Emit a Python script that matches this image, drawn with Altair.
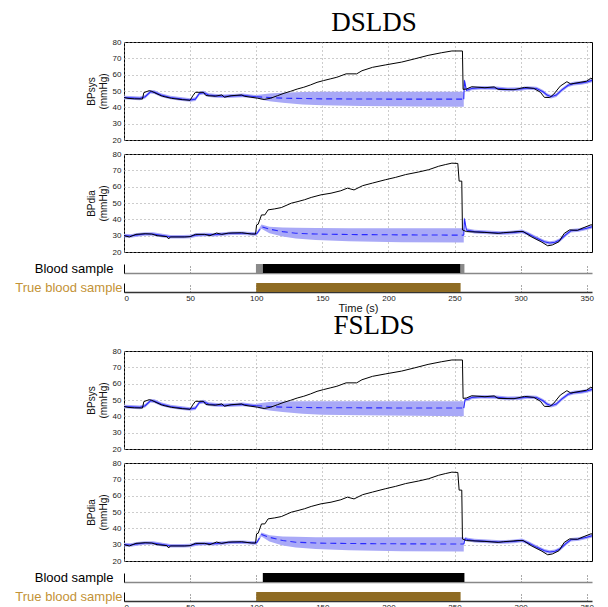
import altair as alt
import pandas as pd

X_MAX = 354
X_TICKS = [0, 50, 100, 150, 200, 250, 300, 350]
Y_TICKS = [20, 30, 40, 50, 60, 70, 80]

# ---------------- true (measured) signals ----------------
sys_t = [0, 3, 8, 14, 15, 19, 21, 25, 29, 36, 44, 50, 52, 54, 60, 62, 69, 74, 76, 81, 89, 91, 96,
         101, 106, 111, 116, 121, 126, 131, 136, 141, 146, 151, 156, 161, 168, 176, 180, 188, 198,
         210, 220, 230, 240, 248, 256, 256.5, 259, 263, 273, 280, 283, 295, 303, 310, 315, 318,
         322, 325, 330, 335, 338, 345, 350, 353, 354]
sys_v = [46, 45.5, 45.2, 45.1, 49, 50.2, 49.8, 48.2, 46.8, 45.5, 44.7, 44.3, 47, 49.2, 49.2, 47.2,
         46.8, 47.6, 46.2, 47.1, 47.6, 46.8, 46.2, 45.6, 44.8, 45.6, 47.1, 48.6, 49.8, 51.2, 52.3,
         53.7, 55.3, 56.4, 57.4, 58.4, 60.5, 60.5, 62.4, 64.5, 66, 67.7, 69.7, 71.8, 73.4, 74.5,
         74.5, 51, 51.2, 52.6, 52, 52.5, 51, 50.8, 52.2, 51.6, 49.2, 46.1, 46, 48, 53, 55.7, 54.3,
         55.3, 56, 57.8, 57.5]

dia_t = [0, 4, 9, 16, 21, 25, 32.5, 33.8, 35, 46, 50, 54, 61, 65, 70, 74, 79, 89, 96.5, 99.5,
         100.3, 101.5, 104, 106.5, 109, 114, 119, 126.6, 131.6, 136.6, 141.6, 149, 156.6, 164, 169,
         174, 180.5, 188, 198, 205.5, 213, 223, 230.5, 238, 243, 248, 252.5, 253.5, 255.5, 256,
         259, 273, 283, 287, 298, 302, 308, 315.5, 320.5, 324, 329, 333, 337, 343, 348, 353, 354]
dia_v = [30, 29.2, 30.8, 31.2, 31, 30, 29.4, 28, 29.2, 29.2, 29.4, 30.8, 30.8, 30, 31.6, 30.8,
         31.6, 31.8, 31, 31, 36.6, 37, 42.7, 42.7, 45.8, 46.4, 47.2, 49.9, 50.9, 52, 53.4, 55, 56,
         57.5, 59.1, 58, 60.6, 62.2, 64.3, 65.7, 67.4, 69, 70.4, 72.5, 73.5, 74.4, 74.2, 63.4, 63.4,
         33.5, 32.5, 32, 31.4, 31.8, 32.5, 32.5, 29.4, 26.3, 23.8, 24.3, 26.3, 31.4, 33.5, 33.3,
         35, 36.6, 36.6]

# ---------------- estimates: normal segments (solid) ----------------
est_sys_pre_t = [0, 5, 12, 16, 20, 23, 28, 35, 44, 50, 54, 57, 60, 64, 70, 76, 82, 90, 96, 100]
est_sys_pre_v = [46, 45.8, 45.5, 46.5, 49.5, 49.3, 47.5, 46, 45, 44.5, 45, 48.5, 49, 47.5, 47,
                 46.8, 47, 47.3, 46.8, 46.5]
est_dia_pre_t = [0, 5, 10, 16, 22, 28, 35, 45, 50, 55, 62, 68, 75, 82, 90, 96, 100]
est_dia_pre_v = [30, 29.8, 30.5, 31, 31, 30.2, 29.3, 29.3, 29.5, 30.5, 30.7, 30.6, 31, 31.5,
                 31.5, 31.2, 31]

# DSLDS post-artifact
d_sys_post_t = [257, 257.5, 259, 263, 270, 280, 290, 300, 305, 312, 317, 320, 323, 327, 331,
                336, 340, 346, 350, 354]
d_sys_post_v = [45, 56.5, 50.5, 51.5, 52, 51.8, 51, 51.2, 51.8, 51.5, 49.5, 47.5, 46.5, 47.5,
                50.5, 53.5, 54.5, 55, 55.5, 56.5]
d_dia_post_t = [257, 257.5, 259, 265, 275, 285, 295, 301, 306, 312, 318, 322, 326, 330, 334,
                338, 344, 350, 354]
d_dia_post_v = [30.3, 40.5, 33.5, 32.5, 32, 31.6, 32, 32.6, 31, 28.5, 26.3, 25.5, 26, 27.5,
                30.5, 33, 33.5, 34.5, 35.5]
# FSLDS post-artifact
f_sys_post_t = [257, 258, 260, 263, 270, 280, 290, 300, 305, 312, 317, 320, 323, 327, 331, 336,
                340, 346, 350, 354]
f_sys_post_v = [45, 50.2, 50.5, 51.5, 52, 51.8, 51, 51.2, 51.8, 51.5, 49.5, 47.5, 46.5, 47.5,
                50.5, 53.5, 54.5, 55, 55.5, 56.5]
f_dia_post_t = [257, 258, 260, 265, 275, 285, 295, 301, 306, 312, 318, 322, 326, 330, 334, 338,
                344, 350, 354]
f_dia_post_v = [30.3, 33.6, 33.2, 32.5, 32, 31.6, 32, 32.6, 31, 28.5, 26.3, 25.5, 26, 27.5,
                30.5, 33, 33.5, 34.5, 35.5]

# ---------------- estimates: artifact segment (dashed + wide band) ----------------
d_sys_art_t = [100, 105, 110, 120, 135, 150, 180, 220, 257]
d_sys_art_m = [46.5, 46.2, 46, 45.6, 45.4, 45.2, 45.1, 45, 45]
d_sys_art_lo = [45.5, 44.5, 43.8, 42.8, 41.8, 41.3, 40.8, 40.5, 40.4]
d_sys_art_hi = [47.5, 48, 48.5, 49, 49.4, 49.5, 49.5, 49.5, 49.5]

f_sys_art_t = [100, 105, 110, 120, 135, 150, 180, 220, 257]
f_sys_art_m = [46.5, 46.3, 46, 45.6, 45.4, 45.3, 45.2, 45.1, 45.1]
f_sys_art_lo = [45.3, 44.3, 43.6, 42.6, 41.6, 41, 40.6, 40.3, 40.1]
f_sys_art_hi = [47.7, 48.3, 48.7, 49.1, 49.3, 49.3, 49.3, 49.3, 49.3]

d_dia_art_t = [100, 101, 104, 110, 120, 130, 145, 170, 210, 257]
d_dia_art_m = [31, 31.8, 35.5, 34, 32.5, 31.5, 31, 30.7, 30.5, 30.3]
d_dia_art_lo = [30.2, 30.8, 34.2, 31.5, 29.5, 28.2, 27.3, 26.6, 26, 25.8]
d_dia_art_hi = [31.8, 32.8, 36.8, 35.5, 35, 34.8, 34.7, 34.6, 34.6, 34.6]

f_dia_art_t = [100, 101, 104, 110, 120, 130, 145, 170, 210, 257]
f_dia_art_m = [31, 32, 36.3, 34.5, 32.5, 31.5, 31, 30.7, 30.5, 30.4]
f_dia_art_lo = [30.2, 31, 35, 32, 29.5, 28.2, 27.3, 26.6, 26, 25.8]
f_dia_art_hi = [31.8, 33, 37.5, 35.8, 35, 34.8, 34.6, 34.5, 34.5, 34.5]

# ---------------- blood sample indicators ----------------
d_blood_start = [99.8, 105, 254.6]
d_blood_end = [105, 254.6, 257.5]
d_blood_kind = ["uncertain", "sample", "uncertain"]
f_blood_start = [105]
f_blood_end = [257.5]
f_blood_kind = ["sample"]
true_start = [100]
true_end = [254.6]
true_kind = ["true"]

HALO = 1.1
BLUE = "#2a2aff"
BAND = "#a9a9f7"
GRID = "#9a9a9a"
SANS = "Liberation Sans"
GOLD_TXT = "#c39236"
BROWN = "#8e6b23"
KIND_DOM = ["uncertain", "sample", "true"]
KIND_RNG = ["#8a8a8a", "black", BROWN]

PW = 468


def est_frame(pre_t, pre_v, art_t, art_m, art_lo, art_hi, post_t, post_v):
    rows = []
    for t, v in zip(pre_t, pre_v):
        rows.append(dict(t=t, m=v, lo=v - HALO, hi=v + HALO, seg="pre"))
    for t, m, lo, hi in zip(art_t, art_m, art_lo, art_hi):
        rows.append(dict(t=t, m=m, lo=lo, hi=hi, seg="art"))
    for t, v in zip(post_t, post_v):
        rows.append(dict(t=t, m=v, lo=v - HALO, hi=v + HALO, seg="post"))
    return pd.DataFrame(rows)


XSC = alt.Scale(domain=[0, X_MAX], nice=False, zero=False)
XAX_HIDDEN = alt.Axis(values=X_TICKS, labels=False, ticks=False, domain=False, grid=True,
                      gridDash=[1, 3], gridColor=GRID, title=None, minExtent=0, maxExtent=0)


def panel(true_t, true_v, est, ytitle, title=None, title_offset=1):
    truedf = pd.DataFrame({"t": true_t, "v": true_v})
    ysc = alt.Scale(domain=[20, 80], nice=False, zero=False)
    yax = alt.Axis(values=Y_TICKS, grid=True, gridDash=[1, 3], gridColor=GRID, ticks=False,
                   domain=False, labelFont=SANS, labelFontSize=8, labelColor="#222",
                   labelPadding=3, title=ytitle, titleFont=SANS, titleFontSize=10,
                   titleFontWeight="normal", titleColor="#111", titlePadding=4)
    x = alt.X("t:Q", scale=XSC, axis=XAX_HIDDEN)
    band = alt.Chart(est).mark_area(color=BAND, opacity=1).encode(
        x=x, y=alt.Y("lo:Q", scale=ysc, axis=yax), y2="hi:Q", detail="seg:N")
    solid = alt.Chart(est).transform_filter(alt.datum.seg != "art").mark_line(
        color=BLUE, strokeWidth=1.1).encode(
        x=x, y=alt.Y("m:Q", scale=ysc, axis=yax), detail="seg:N")
    dashed = alt.Chart(est).transform_filter(alt.datum.seg == "art").mark_line(
        color=BLUE, strokeWidth=1.1, strokeDash=[6, 4]).encode(
        x=x, y=alt.Y("m:Q", scale=ysc, axis=yax))
    black = alt.Chart(truedf).mark_line(color="black", strokeWidth=1).encode(
        x=x, y=alt.Y("v:Q", scale=ysc, axis=yax))
    ch = alt.layer(band, solid, dashed, black).properties(
        width=PW, height=98, view=alt.ViewBackground(stroke="black", strokeWidth=1))
    if title:
        ch = ch.properties(title=alt.TitleParams(title, font="Liberation Serif", fontSize=27,
                                                 fontWeight="normal", color="black",
                                                 anchor="middle", dx=16, offset=title_offset))
    return ch


def strip(label, starts, ends, kinds, label_color, show_x, xtitle=None, domain_color="#888",
          label_pad=2):
    df = pd.DataFrame({"row": label, "s": starts, "e": ends, "k": kinds})
    if show_x:
        xax = alt.Axis(values=X_TICKS, labels=True, ticks=False, domain=True,
                       domainColor=domain_color, domainWidth=1.6, grid=True, gridDash=[1, 2],
                       gridColor="#555", labelFont=SANS, labelFontSize=8, labelColor="#222",
                       labelPadding=2, title=xtitle, titleFont=SANS, titleFontSize=11,
                       titleFontWeight="normal", titleColor="#111", titlePadding=0)
    else:
        xax = alt.Axis(values=X_TICKS, labels=False, ticks=False, domain=True,
                       domainColor=domain_color, domainWidth=1.6, grid=True, gridDash=[1, 2],
                       gridColor="#555", title=None, minExtent=0, maxExtent=0)
    yax = alt.Axis(title=None, ticks=False, domain=True, domainColor="black", domainWidth=1,
                   labelFont=SANS, labelFontSize=13, labelColor=label_color,
                   labelPadding=label_pad)
    return alt.Chart(df).mark_rect().encode(
        x=alt.X("s:Q", scale=XSC, axis=xax),
        x2="e:Q",
        y=alt.Y("row:N", scale=alt.Scale(paddingInner=0, paddingOuter=0), axis=yax),
        color=alt.Color("k:N", scale=alt.Scale(domain=KIND_DOM, range=KIND_RNG), legend=None),
    ).properties(width=PW, height=9, view=alt.ViewBackground(stroke=None))


d_sys = est_frame(est_sys_pre_t, est_sys_pre_v, d_sys_art_t, d_sys_art_m, d_sys_art_lo,
                  d_sys_art_hi, d_sys_post_t, d_sys_post_v)
d_dia = est_frame(est_dia_pre_t, est_dia_pre_v, d_dia_art_t, d_dia_art_m, d_dia_art_lo,
                  d_dia_art_hi, d_dia_post_t, d_dia_post_v)
f_sys = est_frame(est_sys_pre_t, est_sys_pre_v, f_sys_art_t, f_sys_art_m, f_sys_art_lo,
                  f_sys_art_hi, f_sys_post_t, f_sys_post_v)
f_dia = est_frame(est_dia_pre_t, est_dia_pre_v, f_dia_art_t, f_dia_art_m, f_dia_art_lo,
                  f_dia_art_hi, f_dia_post_t, f_dia_post_v)


def group(name, sysdf, diadf, bs, be, bk, xtitle, title_offset):
    return alt.vconcat(
        alt.vconcat(
            panel(sys_t, sys_v, sysdf, ["BPsys", "(mmHg)"], title=name,
                  title_offset=title_offset),
            panel(dia_t, dia_v, diadf, ["BPdia", "(mmHg)"]),
            spacing=4,
        ),
        alt.vconcat(
            strip("Blood sample", bs, be, bk, "black", False, label_pad=11),
            strip("True blood sample", true_start, true_end, true_kind, GOLD_TXT, True, xtitle,
                  domain_color="#333"),
            spacing=6,
        ),
        spacing=5,
    )


chart = alt.vconcat(
    group("DSLDS", d_sys, d_dia, d_blood_start, d_blood_end, d_blood_kind, "Time (s)", 1),
    group("FSLDS", f_sys, f_dia, f_blood_start, f_blood_end, f_blood_kind, None, 7),
    spacing=-2,
).properties(padding={"left": 6, "top": 0, "right": 0, "bottom": 0}, background="white")

chart.save("out.html", embed_options={"renderer": "svg", "actions": False})
